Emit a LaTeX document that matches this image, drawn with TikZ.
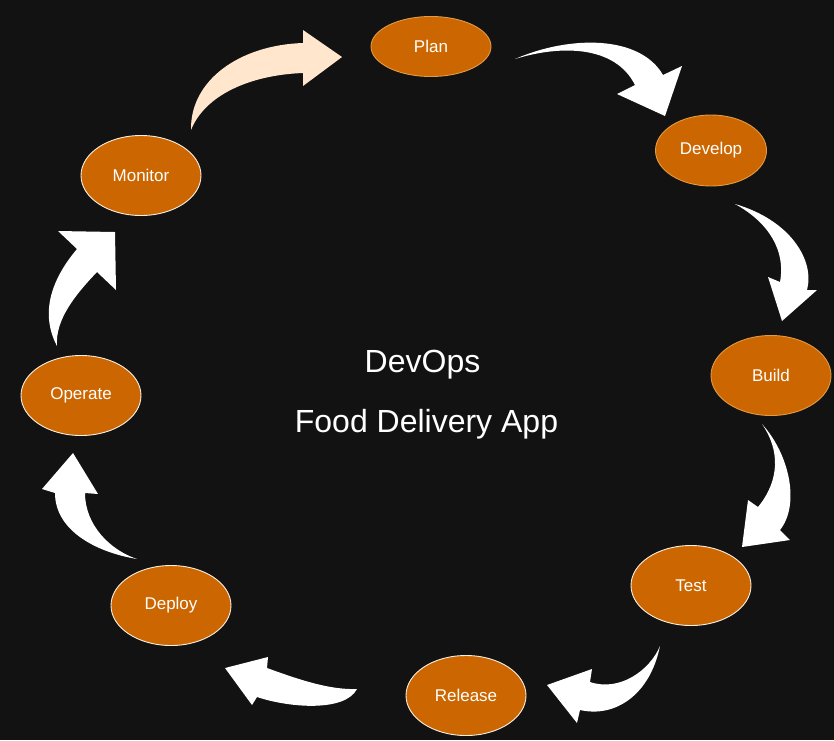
\documentclass[tikz,border=0pt]{standalone}
\usepackage{fontspec}
\setmainfont{Liberation Sans}
\usetikzlibrary{shapes.geometric}
\definecolor{bgdark}{HTML}{121212}
\definecolor{stagefill}{HTML}{CC6600}
\definecolor{stageedge}{HTML}{E39A45}
\definecolor{peach}{HTML}{FFE6CC}
\tikzset{
  stage/.style={ellipse, fill=stagefill, draw=#1, line width=0.9pt,
    minimum width=120pt, minimum height=80pt, inner sep=0pt,
    text=white, font=\fontsize{17}{20}\selectfont},
  stage/.default={white!90!stagefill},
  bigarrow/.style={fill=#1, draw=none},
  bigarrow/.default=white,
  title/.style={text=white, font=\fontsize{32}{38}\selectfont, anchor=base},
}
\begin{document}
\begin{tikzpicture}[x=1pt, y=-1pt]
    \fill[bgdark] (0,0) rectangle (834,740);
    \useasboundingbox (0,0) rectangle (834,740);

    \node[stage=stageedge, minimum height=60pt] (plan) at (431,46.5) {Plan};
    \node[stage=stageedge, minimum width=111pt, minimum height=71pt] (develop) at (711,150.5) {Develop};
    \node[stage=stageedge] (build) at (771,375.5) {Build};
    \node[stage] (test) at (691,585.5) {Test};
    \node[stage] (release) at (466,695.5) {Release};
    \node[stage] (deploy) at (171,605.5) {Deploy};
    \node[stage] (operate) at (81,395.5) {Operate};
    \node[stage] (monitor) at (141,175.5) {Monitor};

    \node[title] (devops) at (422.5,372) {DevOps};
    \node[title] (app) at (426.5,432) {Food Delivery App};

    % monitor -> plan
    \fill[bigarrow=peach] (191,130) .. controls (190,80) and (240,45) .. (303,43)
      -- (303,30) -- (342,57) -- (303,86) -- (303,73)
      .. controls (250,75) and (205,95) .. (191,130) -- cycle;
    % plan -> develop
    \fill[bigarrow] (515,59) .. controls (570,35) and (640,35) .. (663,75)
      -- (682,66) -- (665,116) -- (617,94) -- (635,85)
      .. controls (615,45) and (560,45) .. (515,59) -- cycle;
    % develop -> build
    \fill[bigarrow] (735,204) .. controls (790,220) and (815,260) .. (807,290)
      -- (817,290) -- (782,321) -- (768,277) -- (780,282)
      .. controls (786,250) and (768,222) .. (735,204) -- cycle;
    % build -> test
    \fill[bigarrow] (762,424) .. controls (790,455) and (800,505) .. (780,530)
      -- (790,540) -- (742,547) -- (748,500) -- (758,507)
      .. controls (780,480) and (780,450) .. (762,424) -- cycle;
    % test -> release
    \fill[bigarrow] (660,646) .. controls (650,695) and (615,718) .. (580,710)
      -- (577,723) -- (547,685) -- (592,669) -- (590,682)
      .. controls (620,692) and (650,670) .. (660,646) -- cycle;
    % release -> deploy
    \fill[bigarrow] (357,689) .. controls (345,712) and (290,708) .. (257,697)
      -- (252,705) -- (225,668) -- (268,657) -- (267,668)
      .. controls (300,680) and (330,690) .. (357,689) -- cycle;
    % deploy -> operate
    \fill[bigarrow] (137,559) .. controls (95,552) and (55,530) .. (55,493)
      -- (42,489) -- (73,453) -- (98,494) -- (85,493)
      .. controls (85,525) and (110,550) .. (137,559) -- cycle;
    % operate -> monitor
    \fill[bigarrow] (57,346) .. controls (38,310) and (55,275) .. (77,249)
      -- (58,231) -- (115,232) -- (116,290) -- (97,272)
      .. controls (75,295) and (55,320) .. (57,346) -- cycle;
\end{tikzpicture}
\end{document}
